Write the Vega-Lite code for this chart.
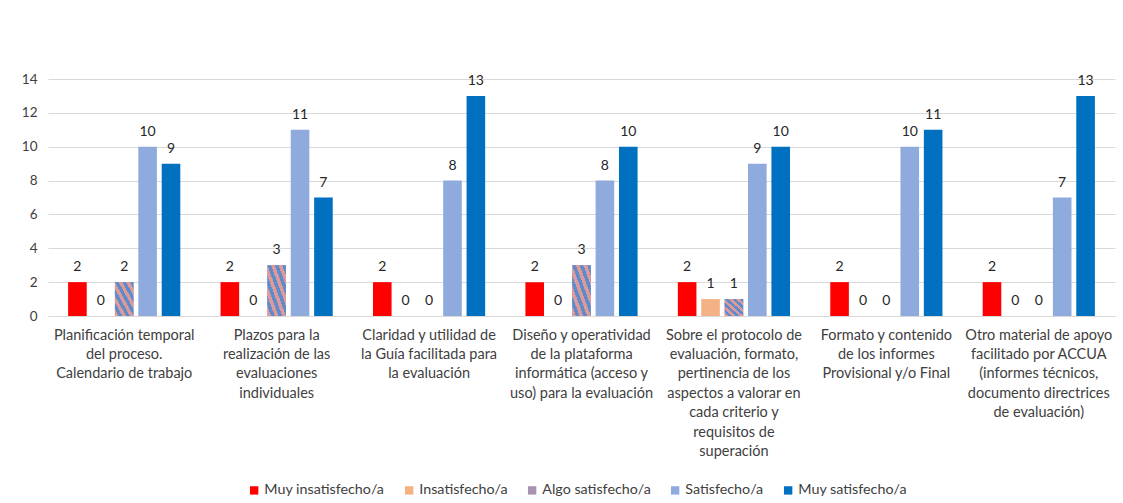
{
  "$schema": "https://vega.github.io/schema/vega-lite/v6.json",
  "width": 1067,
  "height": 237,
  "autosize": "none",
  "padding": {"left": 48, "top": 79, "right": 8, "bottom": 187},
  "background": "white",
  "config": {
    "view": {"stroke": null},
    "font": "Lato",
    "axis": {"labelFont": "Lato", "labelColor": "#404040", "labelFontSize": 14.5, "grid": false, "ticks": false}
  },
  "data": {
    "values": [
      {"cat": "Planificación temporal|del proceso.|Calendario de trabajo", "serie": "Muy insatisfecho/a", "n": 2},
      {"cat": "Planificación temporal|del proceso.|Calendario de trabajo", "serie": "Insatisfecho/a", "n": 0},
      {"cat": "Planificación temporal|del proceso.|Calendario de trabajo", "serie": "Algo satisfecho/a", "n": 2},
      {"cat": "Planificación temporal|del proceso.|Calendario de trabajo", "serie": "Satisfecho/a", "n": 10},
      {"cat": "Planificación temporal|del proceso.|Calendario de trabajo", "serie": "Muy satisfecho/a", "n": 9},
      {"cat": "Plazos para la|realización de las|evaluaciones|individuales", "serie": "Muy insatisfecho/a", "n": 2},
      {"cat": "Plazos para la|realización de las|evaluaciones|individuales", "serie": "Insatisfecho/a", "n": 0},
      {"cat": "Plazos para la|realización de las|evaluaciones|individuales", "serie": "Algo satisfecho/a", "n": 3},
      {"cat": "Plazos para la|realización de las|evaluaciones|individuales", "serie": "Satisfecho/a", "n": 11},
      {"cat": "Plazos para la|realización de las|evaluaciones|individuales", "serie": "Muy satisfecho/a", "n": 7},
      {"cat": "Claridad y utilidad de|la Guía facilitada para|la evaluación", "serie": "Muy insatisfecho/a", "n": 2},
      {"cat": "Claridad y utilidad de|la Guía facilitada para|la evaluación", "serie": "Insatisfecho/a", "n": 0},
      {"cat": "Claridad y utilidad de|la Guía facilitada para|la evaluación", "serie": "Algo satisfecho/a", "n": 0},
      {"cat": "Claridad y utilidad de|la Guía facilitada para|la evaluación", "serie": "Satisfecho/a", "n": 8},
      {"cat": "Claridad y utilidad de|la Guía facilitada para|la evaluación", "serie": "Muy satisfecho/a", "n": 13},
      {"cat": "Diseño y operatividad|de la plataforma|informática (acceso y|uso) para la evaluación", "serie": "Muy insatisfecho/a", "n": 2},
      {"cat": "Diseño y operatividad|de la plataforma|informática (acceso y|uso) para la evaluación", "serie": "Insatisfecho/a", "n": 0},
      {"cat": "Diseño y operatividad|de la plataforma|informática (acceso y|uso) para la evaluación", "serie": "Algo satisfecho/a", "n": 3},
      {"cat": "Diseño y operatividad|de la plataforma|informática (acceso y|uso) para la evaluación", "serie": "Satisfecho/a", "n": 8},
      {"cat": "Diseño y operatividad|de la plataforma|informática (acceso y|uso) para la evaluación", "serie": "Muy satisfecho/a", "n": 10},
      {"cat": "Sobre el protocolo de|evaluación, formato,|pertinencia de los|aspectos a valorar en|cada criterio y|requisitos de|superación", "serie": "Muy insatisfecho/a", "n": 2},
      {"cat": "Sobre el protocolo de|evaluación, formato,|pertinencia de los|aspectos a valorar en|cada criterio y|requisitos de|superación", "serie": "Insatisfecho/a", "n": 1},
      {"cat": "Sobre el protocolo de|evaluación, formato,|pertinencia de los|aspectos a valorar en|cada criterio y|requisitos de|superación", "serie": "Algo satisfecho/a", "n": 1},
      {"cat": "Sobre el protocolo de|evaluación, formato,|pertinencia de los|aspectos a valorar en|cada criterio y|requisitos de|superación", "serie": "Satisfecho/a", "n": 9},
      {"cat": "Sobre el protocolo de|evaluación, formato,|pertinencia de los|aspectos a valorar en|cada criterio y|requisitos de|superación", "serie": "Muy satisfecho/a", "n": 10},
      {"cat": "Formato y contenido|de los informes|Provisional y/o Final", "serie": "Muy insatisfecho/a", "n": 2},
      {"cat": "Formato y contenido|de los informes|Provisional y/o Final", "serie": "Insatisfecho/a", "n": 0},
      {"cat": "Formato y contenido|de los informes|Provisional y/o Final", "serie": "Algo satisfecho/a", "n": 0},
      {"cat": "Formato y contenido|de los informes|Provisional y/o Final", "serie": "Satisfecho/a", "n": 10},
      {"cat": "Formato y contenido|de los informes|Provisional y/o Final", "serie": "Muy satisfecho/a", "n": 11},
      {"cat": "Otro material de apoyo|facilitado por ACCUA|(informes técnicos,|documento directrices|de evaluación)", "serie": "Muy insatisfecho/a", "n": 2},
      {"cat": "Otro material de apoyo|facilitado por ACCUA|(informes técnicos,|documento directrices|de evaluación)", "serie": "Insatisfecho/a", "n": 0},
      {"cat": "Otro material de apoyo|facilitado por ACCUA|(informes técnicos,|documento directrices|de evaluación)", "serie": "Algo satisfecho/a", "n": 0},
      {"cat": "Otro material de apoyo|facilitado por ACCUA|(informes técnicos,|documento directrices|de evaluación)", "serie": "Satisfecho/a", "n": 7},
      {"cat": "Otro material de apoyo|facilitado por ACCUA|(informes técnicos,|documento directrices|de evaluación)", "serie": "Muy satisfecho/a", "n": 13}
    ]
  },
  "encoding": {
    "x": {
      "field": "cat", "type": "nominal", "sort": null, "title": null,
      "scale": {"paddingInner": 0.264, "paddingOuter": 0.132},
      "axis": {"labelAngle": 0, "labelExpr": "split(datum.label, '|')", "labelLineHeight": 19.4, "labelPadding": 12, "labelBaseline": "top", "domainColor": "#d9d9d9", "labelLimit": 0}
    },
    "xOffset": {
      "field": "serie", "type": "nominal",
      "sort": ["Muy insatisfecho/a", "Insatisfecho/a", "Algo satisfecho/a", "Satisfecho/a", "Muy satisfecho/a"],
      "scale": {"paddingInner": 0.205, "paddingOuter": 0}
    },
    "y": {
      "field": "n", "type": "quantitative", "title": null,
      "scale": {"domain": [0, 14], "nice": false},
      "axis": {"values": [0, 2, 4, 6, 8, 10, 12, 14], "grid": true, "gridColor": "#d9d9d9", "domain": false, "labelPadding": 11, "labelFontSize": 13.5}
    }
  },
  "layer": [
    {
      "mark": {"type": "bar"},
      "encoding": {
        "color": {
          "field": "serie", "type": "nominal",
          "sort": ["Muy insatisfecho/a", "Insatisfecho/a", "Algo satisfecho/a", "Satisfecho/a", "Muy satisfecho/a"],
          "scale": {
            "domain": ["Muy insatisfecho/a", "Insatisfecho/a", "Algo satisfecho/a", "Satisfecho/a", "Muy satisfecho/a"],
            "range": ["#ff0000", "#f4b183", "#a993b2", "#8faadc", "#0070c0"]
          },
          "legend": {
            "title": null, "orient": "none", "direction": "horizontal",
            "legendX": 199, "legendY": 404,
            "symbolType": "square", "symbolSize": 70, "symbolStrokeWidth": 0,
            "labelFont": "Lato", "labelFontSize": 14.3, "labelColor": "#404040",
            "labelOffset": 3, "columnPadding": 17, "labelLimit": 0,
            "encode": {
              "symbols": {
                "update": {
                  "fill": [
                    {"test": "datum.value === 'Algo satisfecho/a'", "value": {"gradient": "linear", "x1": 0, "y1": 1, "x2": 1, "y2": 0, "stops": [
                      {"offset": 0, "color": "#de9a98"}, {"offset": 0.25, "color": "#de9a98"},
                      {"offset": 0.25, "color": "#5e8bcc"}, {"offset": 0.5, "color": "#5e8bcc"},
                      {"offset": 0.5, "color": "#de9a98"}, {"offset": 0.75, "color": "#de9a98"},
                      {"offset": 0.75, "color": "#5e8bcc"}, {"offset": 1, "color": "#5e8bcc"}
                    ]}},
                    {"scale": "color", "field": "value"}
                  ]
                }
              }
            }
          }
        }
      }
    },
    {
      "transform": [{"filter": "datum.serie === 'Algo satisfecho/a'"}],
      "mark": {
        "type": "bar",
        "fill": {"gradient": "linear", "x1": 0, "y1": 1, "x2": 1, "y2": 0, "stops": [
          {"offset": 0, "color": "#de9a98"}, {"offset": 0.1, "color": "#de9a98"},
          {"offset": 0.1, "color": "#5e8bcc"}, {"offset": 0.2, "color": "#5e8bcc"},
          {"offset": 0.2, "color": "#de9a98"}, {"offset": 0.3, "color": "#de9a98"},
          {"offset": 0.3, "color": "#5e8bcc"}, {"offset": 0.4, "color": "#5e8bcc"},
          {"offset": 0.4, "color": "#de9a98"}, {"offset": 0.5, "color": "#de9a98"},
          {"offset": 0.5, "color": "#5e8bcc"}, {"offset": 0.6, "color": "#5e8bcc"},
          {"offset": 0.6, "color": "#de9a98"}, {"offset": 0.7, "color": "#de9a98"},
          {"offset": 0.7, "color": "#5e8bcc"}, {"offset": 0.8, "color": "#5e8bcc"},
          {"offset": 0.8, "color": "#de9a98"}, {"offset": 0.9, "color": "#de9a98"},
          {"offset": 0.9, "color": "#5e8bcc"}, {"offset": 1, "color": "#5e8bcc"}
        ]}
      },
      "encoding": {}
    },
    {
      "mark": {"type": "text", "baseline": "middle", "dy": -15, "fontSize": 14, "color": "#262626", "font": "Lato"},
      "encoding": {
        "text": {"field": "n", "type": "quantitative"}
      }
    }
  ]
}
